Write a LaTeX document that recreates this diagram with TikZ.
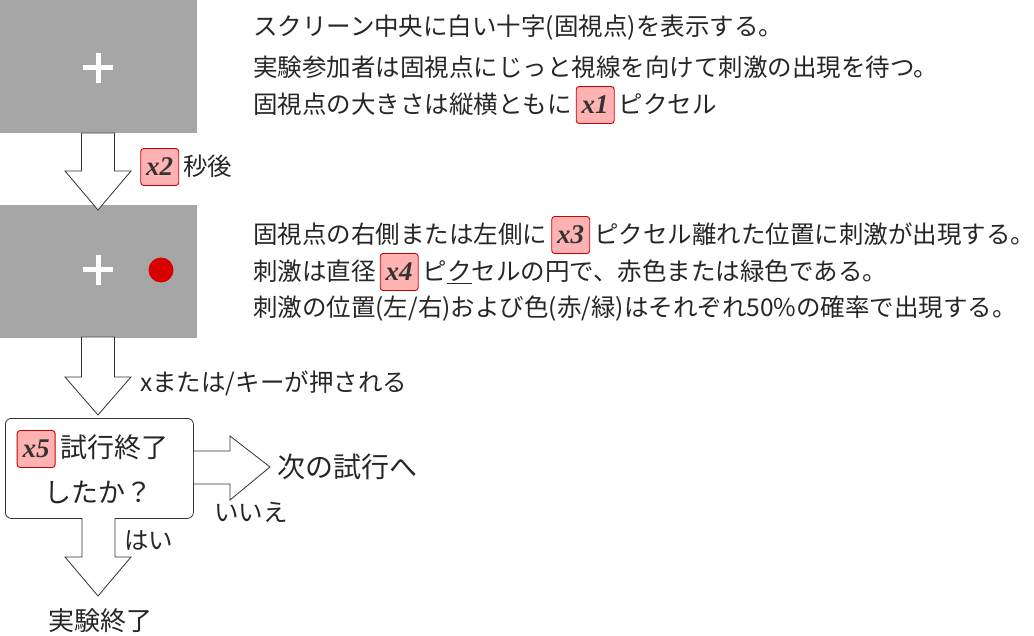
\documentclass[tikz,border=0pt]{standalone}
\usepackage{fontspec}
\setsansfont{Noto Sans CJK JP}
\newfontfamily\xfont{Liberation Serif}
\usetikzlibrary{shapes.arrows}
\tikzset{
  screen/.style={fill=black!35,draw=none,minimum width=197pt,minimum height=133pt,inner sep=0pt},
  txt/.style={anchor=west,font=\sffamily\fontsize{24.5}{28}\selectfont,text=black!85,inner sep=0pt},
  barrow/.style={draw=black!80,fill=white,line width=0.8pt},
  decbox/.style={draw=black!80,rounded corners=6pt,line width=0.8pt,fill=white}
}
\newcommand{\xb}[1]{\,\tikz[baseline=(b.base)]\node[fill=red!30,draw=red!80!black,rounded corners=3pt,line width=0.9pt,inner xsep=4pt,minimum height=37pt,minimum width=38pt,text=black!80,font=\xfont\bfseries\itshape\fontsize{27}{28}\selectfont](b){#1};\,}
\begin{document}
\begin{tikzpicture}[x=1pt,y=-1pt]
\useasboundingbox (0,0) rectangle (1034,636);
\node[screen,anchor=north west] (s1) at (0,0) {};
\node[screen,anchor=north west] (s2) at (0,205) {};
\foreach \c/\n in {{(98,68)}/c1,{(98,270)}/c2}{
  \node (\n) at \c {};
  \draw[white,line width=5pt] (\n.center) ++(-15,0) -- ++(30,0);
  \draw[white,line width=5pt] (\n.center) ++(0,-15) -- ++(0,30);
}
\node[circle,fill=red!85!black,minimum size=25pt,inner sep=0pt] (dot) at (161,270) {};
\draw[barrow] (81.5,133) -- (114.5,133) -- (114.5,171) -- (131,171) -- (98,210) -- (65,171) -- (81.5,171) -- cycle;
\draw[barrow] (81.5,337) -- (114.5,337) -- (114.5,377) -- (131,377) -- (98,415) -- (65,377) -- (81.5,377) -- cycle;
\node[decbox,minimum width=188pt,minimum height=100pt,anchor=north west] (dec) at (5,418) {};
\draw[barrow] (dec.east|-0,451) -- (230,451) -- (230,436) -- (270,467) -- (230,500) -- (230,484) -- (dec.east|-0,484);
\draw[barrow] (82,518) -- (82,557) -- (65,557) -- (98,596) -- (131,557) -- (115,557) -- (115,518);
\node[txt] (t1) at (253,28) {スクリーン中央に白い十字(固視点)を表示する。};
\node[txt] (t2) at (253,67) {実験参加者は固視点にじっと視線を向けて刺激の出現を待つ。};
\node[txt] (t3) at (253,105) {固視点の大きさは縦横ともに\xb{x1}ピクセル};
\node[txt] (l1) at (136,167) {\xb{x2}秒後};
\node[txt] (t4) at (253,235) {固視点の右側または左側に\xb{x3}ピクセル離れた位置に刺激が出現する。};
\node[txt] (t5) at (253,272) {刺激は直径\xb{x4}ピ\underline{ク}セルの円で、赤色または緑色である。};
\node[txt] (t6) at (253,309) {刺激の位置(左/右)および色(赤/緑)はそれぞれ50\%の確率で出現する。};
\node[txt] (l2) at (140,383) {xまたは/キーが押される};
\node[txt,font=\sffamily\fontsize{27}{30}\selectfont] (d1) at (12,449) {\xb{x5}試行終了};
\node[txt,anchor=center,font=\sffamily\fontsize{27}{30}\selectfont] (d2) at (99,492) {したか？};
\node[txt,font=\sffamily\fontsize{28}{32}\selectfont] (nx) at (277,467) {次の試行へ};
\node[txt] (no) at (214,512) {いいえ};
\node[txt] (yes) at (124,541) {はい};
\node[txt,anchor=center,font=\sffamily\fontsize{26}{30}\selectfont] (end) at (100,621) {実験終了};
\end{tikzpicture}
\end{document}
